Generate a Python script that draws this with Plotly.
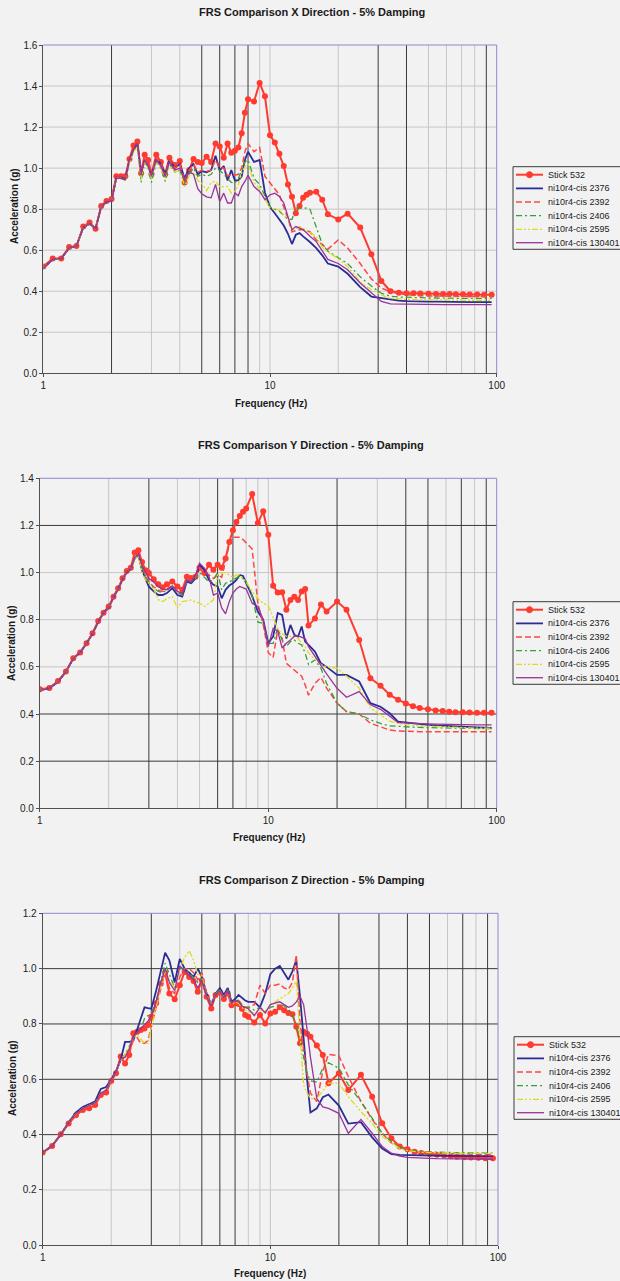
import math
import plotly.graph_objects as go

# ---------------- data ----------------
FREQ = [1.0, 1.1, 1.2, 1.3, 1.4, 1.5, 1.6, 1.7, 1.8, 1.9, 2.0, 2.1, 2.2, 2.3, 2.4, 2.5, 2.6, 2.7, 2.8, 2.9, 3.0,
        3.15, 3.3, 3.45, 3.6,
        3.8, 4.0, 4.2, 4.4, 4.6, 4.8, 5.0,
        5.25, 5.5, 5.75, 6.0, 6.25, 6.5, 6.75, 7.0, 7.25, 7.5, 7.75, 8.0,
        8.5, 9.0, 9.5, 10, 10.5, 11, 11.5, 12, 12.5, 13, 13.5, 14, 14.5, 15,
        16, 17, 18, 20, 22, 25, 28, 31, 34,
        37, 40, 43, 46, 50, 54, 58, 62, 66, 71, 76, 82, 88, 95]

SERIES = ["Stick 532", "ni10r4-cis 2376", "ni10r4-cis 2392", "ni10r4-cis 2406",
          "ni10r4-cis 2595", "ni10r4-cis 130401"]

# X direction
X_STICK = [0.52, 0.56, 0.56, 0.615, 0.62, 0.715, 0.735, 0.705, 0.815, 0.84, 0.85, 0.96, 0.96, 0.96, 1.045, 1.11, 1.13, 0.975, 1.065, 1.04, 0.97,
           1.065, 1.03, 0.97, 1.05,
           1.015, 1.035, 0.93, 0.99, 1.045, 1.03, 1.025,
           1.055, 1.03, 1.12, 1.105, 1.05, 1.12, 1.075, 1.085, 1.10, 1.17, 1.27, 1.335,
           1.325, 1.415, 1.35, 1.16, 1.125, 1.07, 1.01, 0.92, 0.86, 0.78, 0.815, 0.855, 0.87, 0.88,
           0.885, 0.846, 0.775, 0.75, 0.778, 0.71, 0.58, 0.45, 0.40,
           0.393, 0.39, 0.39, 0.389, 0.388, 0.387, 0.386, 0.386, 0.385, 0.385, 0.384, 0.384, 0.383, 0.383]
X_2376 = [0.51, 0.555, 0.56, 0.61, 0.62, 0.71, 0.73, 0.705, 0.81, 0.835, 0.84, 0.955, 0.955, 0.945, 1.04, 1.09, 1.12, 0.975, 1.04, 1.01, 0.965,
          1.045, 1.02, 0.97, 1.04,
          1.0, 1.02, 0.95, 1.0, 1.02, 0.97, 0.985,
          0.98, 0.99, 1.06, 0.99, 1.01, 0.94, 0.99, 0.94, 0.94, 0.96, 1.04, 1.08,
          1.03, 1.04, 0.88, 0.81, 0.78, 0.75, 0.72, 0.68, 0.63, 0.675, 0.683, 0.667, 0.655, 0.64,
          0.61, 0.575, 0.535, 0.52, 0.485, 0.42, 0.374, 0.366, 0.358,
          0.354, 0.352, 0.35, 0.35, 0.349, 0.349, 0.348, 0.348, 0.348, 0.348, 0.347, 0.347, 0.347, 0.347]
X_2392 = [0.51, 0.555, 0.56, 0.61, 0.62, 0.71, 0.73, 0.705, 0.81, 0.835, 0.845, 0.955, 0.955, 0.95, 1.04, 1.09, 1.12, 0.975, 1.045, 1.02, 0.965,
          1.05, 1.02, 0.965, 1.04,
          1.0, 1.02, 0.94, 0.99, 1.02, 0.98, 0.99,
          0.985, 0.99, 1.04, 1.0, 1.0, 0.96, 0.97, 0.965, 0.97, 1.0, 1.08, 1.12,
          1.08, 1.10, 0.96, 0.93, 0.90, 0.87, 0.81, 0.755, 0.69, 0.695, 0.70, 0.70, 0.695, 0.69,
          0.65, 0.625, 0.605, 0.65, 0.61, 0.535, 0.46, 0.415, 0.398,
          0.388, 0.383, 0.38, 0.378, 0.377, 0.376, 0.376, 0.375, 0.375, 0.375, 0.374, 0.374, 0.374, 0.374]
X_2406 = [0.51, 0.555, 0.56, 0.61, 0.62, 0.71, 0.73, 0.705, 0.81, 0.835, 0.84, 0.95, 0.95, 0.94, 1.03, 1.08, 1.11, 0.93, 1.03, 1.0, 0.93,
          1.03, 1.0, 0.935, 1.02,
          0.98, 0.99, 0.92, 0.97, 1.0, 0.96, 0.97,
          0.96, 0.97, 1.0, 0.99, 0.97, 0.95, 0.93, 0.927, 0.95, 0.99, 1.03, 1.04,
          0.95, 0.92, 0.86, 0.81, 0.80, 0.79, 0.77, 0.75, 0.75, 0.805, 0.805, 0.805, 0.805, 0.80,
          0.715, 0.63, 0.595, 0.565, 0.535, 0.47, 0.425, 0.39, 0.375,
          0.372, 0.37, 0.369, 0.368, 0.367, 0.367, 0.366, 0.366, 0.366, 0.365, 0.365, 0.365, 0.365, 0.365]
X_2595 = [0.51, 0.555, 0.56, 0.61, 0.62, 0.71, 0.73, 0.705, 0.81, 0.835, 0.84, 0.95, 0.95, 0.94, 1.03, 1.08, 1.10, 0.95, 1.03, 1.0, 0.95,
          1.03, 1.0, 0.95, 1.02,
          0.98, 0.99, 0.91, 0.96, 0.98, 0.94, 0.925,
          0.89, 0.93, 0.935, 0.91, 0.91, 0.91, 0.878, 0.886, 0.92, 0.975, 1.008, 1.02,
          0.93, 0.90, 0.85, 0.805, 0.80, 0.797, 0.77, 0.756, 0.70, 0.705, 0.715, 0.707, 0.70, 0.69,
          0.665, 0.615, 0.59, 0.56, 0.52, 0.445, 0.407, 0.382, 0.365,
          0.362, 0.36, 0.359, 0.358, 0.358, 0.357, 0.357, 0.357, 0.356, 0.356, 0.356, 0.356, 0.356, 0.356]
X_130401 = [0.51, 0.555, 0.56, 0.61, 0.62, 0.71, 0.73, 0.705, 0.81, 0.835, 0.84, 0.95, 0.95, 0.945, 1.04, 1.09, 1.12, 0.97, 1.04, 1.01, 0.96,
            1.04, 1.01, 0.96, 1.03,
            0.99, 1.0, 0.94, 0.98, 0.97, 0.90, 0.875,
            0.86, 0.855, 0.92, 0.837, 0.878, 0.83, 0.83, 0.878, 0.865, 0.91, 0.935, 0.965,
            0.91, 0.886, 0.846, 0.87, 0.878, 0.862, 0.83, 0.764, 0.70, 0.715, 0.707, 0.70, 0.685, 0.668,
            0.642, 0.595, 0.555, 0.535, 0.505, 0.44, 0.39, 0.35, 0.338,
            0.337, 0.336, 0.336, 0.335, 0.335, 0.335, 0.335, 0.335, 0.335, 0.335, 0.335, 0.335, 0.335, 0.335]

# Y direction
Y_STICK = [0.505, 0.51, 0.54, 0.58, 0.637, 0.661, 0.70, 0.743, 0.795, 0.83, 0.856, 0.898, 0.934, 0.976, 1.007, 1.02, 1.085, 1.095, 1.045, 1.01, 0.998,
           0.972, 0.95, 0.938, 0.95,
           0.962, 0.941, 0.927, 0.982, 0.977, 0.982, 1.02,
           0.998, 1.033, 1.012, 1.033, 1.02, 1.06, 1.13, 1.18, 1.215, 1.24, 1.258, 1.272,
           1.333, 1.21, 1.26, 1.16, 0.944, 0.915, 0.917, 0.842, 0.884, 0.898, 0.884, 0.92, 0.93, 0.775,
           0.805, 0.865, 0.835, 0.877, 0.842, 0.714, 0.552, 0.52, 0.482,
           0.46, 0.445, 0.433, 0.425, 0.42, 0.415, 0.413, 0.41, 0.408, 0.407, 0.406, 0.405, 0.405, 0.405]
Y_2376 = [0.50, 0.51, 0.535, 0.58, 0.635, 0.66, 0.70, 0.74, 0.79, 0.83, 0.85, 0.895, 0.93, 0.97, 1.0, 1.015, 1.06, 1.075, 1.01, 0.976, 0.94,
          0.92, 0.905, 0.905, 0.913,
          0.934, 0.905, 0.898, 0.962, 0.955, 0.976, 1.033,
          1.012, 0.969, 0.948, 0.941, 0.891, 0.927, 0.945, 0.955, 0.969, 0.99, 0.986, 0.955,
          0.90, 0.835, 0.80, 0.70, 0.729, 0.828, 0.82, 0.72, 0.778, 0.736, 0.729, 0.771, 0.707, 0.693,
          0.665, 0.615, 0.60, 0.566, 0.566, 0.538, 0.446, 0.431, 0.403,
          0.368, 0.364, 0.36, 0.357, 0.354, 0.352, 0.35, 0.348, 0.346, 0.345, 0.344, 0.343, 0.342, 0.341]
Y_2392 = [0.50, 0.51, 0.535, 0.58, 0.635, 0.66, 0.70, 0.74, 0.79, 0.83, 0.85, 0.895, 0.93, 0.97, 1.0, 1.015, 1.065, 1.08, 1.02, 0.99, 0.96,
          0.94, 0.925, 0.92, 0.93,
          0.945, 0.92, 0.91, 0.97, 0.965, 0.98, 1.02,
          1.0, 0.99, 0.975, 0.99, 0.98, 1.05, 1.12, 1.15, 1.15, 1.15, 1.14, 1.125,
          1.10, 0.87, 0.78, 0.66, 0.64, 0.757, 0.72, 0.615, 0.60, 0.587, 0.575, 0.56, 0.523, 0.48,
          0.53, 0.555, 0.51, 0.446, 0.41, 0.40, 0.361, 0.345, 0.332,
          0.328, 0.326, 0.325, 0.325, 0.325, 0.325, 0.325, 0.325, 0.325, 0.325, 0.325, 0.325, 0.325, 0.325]
Y_2406 = [0.50, 0.51, 0.535, 0.58, 0.635, 0.66, 0.70, 0.74, 0.79, 0.83, 0.85, 0.895, 0.93, 0.97, 1.0, 1.015, 1.06, 1.07, 1.02, 0.985, 0.955,
          0.935, 0.92, 0.915, 0.925,
          0.94, 0.915, 0.905, 0.965, 0.96, 0.975, 1.0,
          0.98, 0.96, 0.97, 1.0, 0.927, 0.955, 0.96, 0.969, 0.975, 0.986, 0.975, 0.962,
          0.90, 0.79, 0.785, 0.70, 0.70, 0.764, 0.714, 0.686, 0.707, 0.714, 0.70, 0.693, 0.658, 0.61,
          0.63, 0.594, 0.53, 0.446, 0.41, 0.40, 0.375, 0.36, 0.35,
          0.347, 0.345, 0.344, 0.343, 0.342, 0.341, 0.34, 0.34, 0.339, 0.339, 0.338, 0.338, 0.338, 0.338]
Y_2595 = [0.50, 0.51, 0.535, 0.58, 0.635, 0.66, 0.70, 0.74, 0.79, 0.83, 0.85, 0.895, 0.93, 0.97, 1.0, 1.015, 1.06, 1.07, 1.0, 0.97, 0.955,
          0.93, 0.885, 0.877, 0.89,
          0.898, 0.85, 0.877, 0.88, 0.884, 0.875, 0.87,
          0.856, 0.87, 0.884, 0.99, 1.0, 1.0, 0.99, 0.98, 0.99, 0.99, 0.975, 0.96,
          0.92, 0.89, 0.87, 0.86, 0.81, 0.76, 0.74, 0.73, 0.729, 0.729, 0.72, 0.70, 0.686, 0.66,
          0.63, 0.61, 0.60, 0.595, 0.56, 0.51, 0.425, 0.395, 0.37,
          0.36, 0.355, 0.352, 0.35, 0.348, 0.346, 0.345, 0.344, 0.343, 0.342, 0.341, 0.34, 0.34, 0.34]
Y_130401 = [0.50, 0.51, 0.535, 0.58, 0.635, 0.66, 0.70, 0.74, 0.79, 0.83, 0.85, 0.895, 0.93, 0.97, 1.0, 1.015, 1.065, 1.08, 1.03, 1.0, 0.975,
            0.96, 0.94, 0.93, 0.927,
            0.944, 0.92, 0.912, 0.969, 0.962, 0.99, 1.04,
            1.019, 0.983, 0.905, 0.913, 0.85, 0.825, 0.877, 0.913, 0.93, 0.941, 0.934, 0.93,
            0.87, 0.856, 0.80, 0.686, 0.764, 0.75, 0.68, 0.70, 0.714, 0.73, 0.731, 0.725, 0.72, 0.686,
            0.645, 0.61, 0.57, 0.509, 0.471, 0.495, 0.439, 0.42, 0.389,
            0.364, 0.362, 0.36, 0.359, 0.358, 0.357, 0.356, 0.356, 0.355, 0.355, 0.355, 0.354, 0.354, 0.354]

# Z direction
Z_STICK = [0.335, 0.359, 0.401, 0.44, 0.47, 0.489, 0.495, 0.507, 0.543, 0.552, 0.594, 0.622, 0.682, 0.657, 0.688, 0.766, 0.772, 0.778, 0.784, 0.796, 0.826,
           0.875, 0.945, 0.985, 0.91,
           0.889, 0.94, 0.988, 0.97, 0.955, 0.916, 0.958,
           0.898, 0.856, 0.905, 0.915, 0.89, 0.91, 0.868, 0.875, 0.872, 0.855, 0.832, 0.826,
           0.805, 0.832, 0.802, 0.838, 0.844, 0.86, 0.85, 0.84, 0.835, 0.79, 0.73, 0.772, 0.765, 0.754,
           0.722, 0.688, 0.586, 0.622, 0.561, 0.616, 0.537, 0.441, 0.387,
           0.357, 0.347, 0.338, 0.334, 0.33, 0.327, 0.325, 0.322, 0.32, 0.318, 0.317, 0.316, 0.315, 0.315]
Z_2376 = [0.335, 0.36, 0.40, 0.445, 0.48, 0.50, 0.51, 0.52, 0.565, 0.572, 0.60, 0.63, 0.67, 0.735, 0.735, 0.74, 0.78, 0.82, 0.86, 0.857, 0.855,
          0.92, 0.99, 1.058, 1.03,
          0.95, 1.035, 1.0, 0.985, 0.97, 1.0, 0.97,
          0.91, 0.87, 0.91, 0.93, 0.905, 0.93, 0.88, 0.89, 0.905, 0.895, 0.885, 0.88,
          0.88, 0.86, 0.91, 0.98, 1.0, 1.01, 0.985, 0.96, 0.99, 1.03, 0.90, 0.74, 0.60, 0.48,
          0.495, 0.535, 0.545, 0.505, 0.44, 0.445, 0.39, 0.35, 0.33,
          0.327, 0.326, 0.325, 0.325, 0.324, 0.324, 0.323, 0.323, 0.323, 0.323, 0.323, 0.322, 0.322, 0.322]
Z_2392 = [0.335, 0.36, 0.40, 0.445, 0.475, 0.495, 0.505, 0.515, 0.55, 0.56, 0.60, 0.625, 0.67, 0.68, 0.70, 0.74, 0.75, 0.73, 0.73, 0.74, 0.79,
          0.86, 0.93, 0.99, 0.93,
          0.91, 0.97, 1.0, 1.0, 0.985, 0.96, 0.985,
          0.91, 0.865, 0.91, 0.92, 0.90, 0.92, 0.875, 0.885, 0.885, 0.87, 0.86, 0.86,
          0.87, 0.94, 0.91, 0.94, 0.94, 0.945, 0.93, 0.925, 0.95, 1.05, 0.80, 0.70, 0.62, 0.55,
          0.52, 0.63, 0.69, 0.685, 0.61, 0.52, 0.455, 0.405, 0.37,
          0.355, 0.345, 0.34, 0.337, 0.335, 0.333, 0.332, 0.331, 0.33, 0.33, 0.329, 0.329, 0.328, 0.328]
Z_2406 = [0.335, 0.36, 0.40, 0.445, 0.475, 0.495, 0.505, 0.515, 0.55, 0.56, 0.60, 0.625, 0.67, 0.69, 0.72, 0.75, 0.77, 0.78, 0.82, 0.83, 0.84,
          0.88, 0.95, 1.02, 0.98,
          0.93, 1.0, 1.0, 0.985, 0.965, 0.95, 0.965,
          0.90, 0.87, 0.91, 0.925, 0.895, 0.925, 0.875, 0.885, 0.885, 0.87, 0.86, 0.86,
          0.85, 0.86, 0.845, 0.86, 0.865, 0.87, 0.865, 0.855, 0.83, 0.80, 0.74, 0.68, 0.62, 0.595,
          0.59, 0.64, 0.66, 0.64, 0.58, 0.52, 0.458, 0.405, 0.375,
          0.355, 0.345, 0.34, 0.338, 0.337, 0.336, 0.335, 0.335, 0.335, 0.334, 0.334, 0.334, 0.333, 0.333]
Z_2595 = [0.335, 0.36, 0.40, 0.445, 0.475, 0.495, 0.505, 0.515, 0.55, 0.56, 0.60, 0.625, 0.67, 0.69, 0.72, 0.75, 0.76, 0.745, 0.73, 0.73, 0.78,
          0.86, 0.94, 0.99, 0.96,
          0.93, 1.0, 1.04, 1.065, 1.03, 0.98, 0.975,
          0.90, 0.87, 0.905, 0.92, 0.895, 0.92, 0.87, 0.88, 0.875, 0.86, 0.85, 0.845,
          0.84, 0.85, 0.84, 0.87, 0.88, 0.89, 0.90, 0.91, 0.93, 0.955, 0.76, 0.58, 0.55, 0.53,
          0.53, 0.56, 0.586, 0.586, 0.537, 0.483, 0.441, 0.393, 0.369,
          0.35, 0.342, 0.338, 0.336, 0.335, 0.334, 0.334, 0.333, 0.333, 0.333, 0.332, 0.332, 0.332, 0.332]
Z_130401 = [0.335, 0.36, 0.40, 0.445, 0.475, 0.495, 0.505, 0.515, 0.55, 0.56, 0.60, 0.625, 0.675, 0.68, 0.71, 0.755, 0.77, 0.785, 0.80, 0.81, 0.83,
            0.88, 0.95, 1.0, 0.95,
            0.92, 1.01, 0.99, 0.975, 0.96, 0.93, 0.96,
            0.90, 0.865, 0.905, 0.92, 0.895, 0.92, 0.875, 0.885, 0.88, 0.865, 0.86, 0.855,
            0.83, 0.86, 0.84, 0.87, 0.875, 0.88, 0.87, 0.86, 0.865, 0.88, 0.90, 0.87, 0.78, 0.68,
            0.53, 0.50, 0.495, 0.477, 0.405, 0.455, 0.405, 0.357, 0.333,
            0.322, 0.318, 0.316, 0.315, 0.314, 0.313, 0.313, 0.312, 0.312, 0.312, 0.311, 0.311, 0.311, 0.311]

X_DATA = [X_STICK, X_2376, X_2392, X_2406, X_2595, X_130401]
Y_DATA = [Y_STICK, Y_2376, Y_2392, Y_2406, Y_2595, Y_130401]
Z_DATA = [Z_STICK, Z_2376, Z_2392, Z_2406, Z_2595, Z_130401]

X_TICKS = [1, 10, 100]
X_TICKTEXT = ["1", "10", "100"]

# ---------------- styling / layout ----------------
W, H = 620, 1281
BG = "#f2f2f2"
FONT = "Arial, Liberation Sans, sans-serif"
LIGHT = "#c6c6c6"
DARK = "#3a3a3a"


def px(x):
    return x / W


def py(y):
    return 1 - y / H


STYLES = [
    dict(color="#ff3a2e", width=2.0, dash="solid"),
    dict(color="#2c2c96", width=1.8, dash="solid"),
    dict(color="#ff4646", width=1.5, dash="6px,3px"),
    dict(color="#36a036", width=1.3, dash="6px,3px,2px,3px"),
    dict(color="#dcdc1e", width=1.3, dash="6px,2px,2px,2px,2px,2px"),
    dict(color="#9a339a", width=1.3, dash="solid"),
]

CHARTS = [
    dict(title="FRS Comparison X Direction - 5% Damping", data=X_DATA, ymax=1.6,
         left=43.3, right=496.7, top=45.0, bottom=373.3,
         title_xy=(312, 12), xt_xy=(271, 403.5), yt_xy=(15, 206),
         leg_left=513, leg_top=166.7,
         dark_x=[2, 5, 6, 7, 8, 30, 40, 90], dark_y=[]),
    dict(title="FRS Comparison Y Direction - 5% Damping", data=Y_DATA, ymax=1.4,
         left=39.9, right=496.7, top=478.3, bottom=808.3,
         title_xy=(311, 444.5), xt_xy=(269, 838), yt_xy=(11, 643),
         leg_left=513, leg_top=601.7,
         dark_x=[3, 6, 7, 20, 40, 50, 70, 90], dark_y=[0.2, 0.4, 1.2]),
    dict(title="FRS Comparison Z Direction - 5% Damping", data=Z_DATA, ymax=1.2,
         left=42.7, right=498.0, top=913.3, bottom=1245.3,
         title_xy=(312, 880), xt_xy=(270, 1273.5), yt_xy=(12, 1078),
         leg_left=514, leg_top=1036.7,
         dark_x=[3, 5, 6, 7, 20, 30, 40, 50, 70, 90], dark_y=[0.4, 0.6, 0.8, 1.0]),
]

GRID_X = [2, 3, 4, 5, 6, 7, 8, 9, 10, 20, 30, 40, 50, 60, 70, 80, 90]
LEG_ROWS = [8.0, 21.7, 35.3, 49.0, 62.7, 76.0]
LEG_H = 82.6

fig = go.Figure()
shapes = []
annotations = []
layout_axes = {}

for k, ch in enumerate(CHARTS):
    sfx = "" if k == 0 else str(k + 1)
    xa, ya = "x" + sfx, "y" + sfx
    x0p, x1p = px(ch["left"]), px(ch["right"])
    y0p, y1p = py(ch["bottom"]), py(ch["top"])

    # traces (stick first, others drawn over it)
    for i, (name, vals) in enumerate(zip(SERIES, ch["data"])):
        st = STYLES[i]
        fig.add_trace(go.Scatter(
            x=FREQ, y=vals, name=name, xaxis=xa, yaxis=ya,
            mode="lines+markers" if i == 0 else "lines",
            line=dict(color=st["color"], width=st["width"], dash=st["dash"]),
            marker=dict(size=6, color=st["color"]) if i == 0 else None,
            showlegend=False, hoverinfo="x+y+name"))

    layout_axes["xaxis" + sfx] = dict(
        type="log", range=[0, 2], domain=[x0p, x1p], anchor=ya,
        tickvals=X_TICKS, ticktext=X_TICKTEXT, showgrid=False, zeroline=False,
        showline=True, linecolor="#505050", linewidth=1,
        ticks="outside", ticklen=3, tickcolor="#505050",
        tickfont=dict(size=10, color="#222", family=FONT))
    layout_axes["yaxis" + sfx] = dict(
        range=[0, ch["ymax"]], domain=[y0p, y1p], anchor=xa,
        dtick=0.2, tick0=0, tickformat=".1f", showgrid=False, zeroline=False,
        showline=True, linecolor="#505050", linewidth=1,
        ticks="outside", ticklen=3, tickcolor="#505050",
        tickfont=dict(size=10, color="#222", family=FONT))

    def gx(f):
        return x0p + (x1p - x0p) * math.log10(f) / 2.0

    def gy(v):
        return y0p + (y1p - y0p) * v / ch["ymax"]

    # gridlines: light first, dark on top
    yvals = [round(0.2 * j, 1) for j in range(1, int(round(ch["ymax"] / 0.2)))]
    for dark in (False, True):
        col = DARK if dark else LIGHT
        for f in GRID_X:
            if (f in ch["dark_x"]) == dark:
                shapes.append(dict(type="line", xref="paper", yref="paper",
                                   x0=gx(f), x1=gx(f), y0=y0p, y1=y1p,
                                   line=dict(color=col, width=1), layer="below"))
        for v in yvals:
            if (v in ch["dark_y"]) == dark:
                shapes.append(dict(type="line", xref="paper", yref="paper",
                                   x0=x0p, x1=x1p, y0=gy(v), y1=gy(v),
                                   line=dict(color=col, width=1), layer="below"))
    # top / right frame (bluish)
    shapes.append(dict(type="line", xref="paper", yref="paper", x0=x0p, x1=x1p, y0=y1p, y1=y1p,
                       line=dict(color="#8a8ad0", width=1), layer="below"))
    shapes.append(dict(type="line", xref="paper", yref="paper", x0=x1p, x1=x1p, y0=y0p, y1=y1p,
                       line=dict(color="#8a8ad0", width=1), layer="below"))

    # titles
    tx, ty = ch["title_xy"]
    annotations.append(dict(text=ch["title"], x=px(tx), y=py(ty), xref="paper", yref="paper",
                            xanchor="center", yanchor="middle", showarrow=False,
                            font=dict(size=11, color="#1a1a1a", family=FONT, weight="bold")))
    tx, ty = ch["xt_xy"]
    annotations.append(dict(text="Frequency (Hz)", x=px(tx), y=py(ty), xref="paper", yref="paper",
                            xanchor="center", yanchor="middle", showarrow=False,
                            font=dict(size=10, color="#1a1a1a", family=FONT, weight="bold")))
    tx, ty = ch["yt_xy"]
    annotations.append(dict(text="Acceleration (g)", x=px(tx), y=py(ty), xref="paper", yref="paper",
                            xanchor="center", yanchor="middle", showarrow=False, textangle=-90,
                            font=dict(size=10, color="#1a1a1a", family=FONT, weight="bold")))

    # legend box
    lt, ll = ch["leg_top"], ch["leg_left"]
    shapes.append(dict(type="rect", xref="paper", yref="paper",
                       x0=px(ll), x1=px(ll + 140), y0=py(lt + LEG_H), y1=py(lt),
                       line=dict(color="#3a3a3a", width=1), fillcolor=BG, layer="above"))
    for i, name in enumerate(SERIES):
        st = STYLES[i]
        yy = lt + LEG_ROWS[i]
        shapes.append(dict(type="line", xref="paper", yref="paper",
                           x0=px(ll + 3), x1=px(ll + 30), y0=py(yy), y1=py(yy),
                           line=dict(color=st["color"], width=st["width"], dash=st["dash"]),
                           layer="above"))
        if i == 0:
            shapes.append(dict(type="circle", xref="paper", yref="paper",
                               x0=px(ll + 13.5), x1=px(ll + 19.5), y0=py(yy + 3), y1=py(yy - 3),
                               line=dict(color=st["color"], width=1), fillcolor=st["color"],
                               layer="above"))
        annotations.append(dict(text=name, x=px(ll + 32.5), y=py(yy), xref="paper", yref="paper",
                                xanchor="left", yanchor="middle", showarrow=False,
                                font=dict(size=9, color="#1a1a1a", family=FONT)))

fig.update_layout(
    width=W, height=H,
    margin=dict(l=0, r=0, t=0, b=0, pad=0, autoexpand=False),
    paper_bgcolor=BG, plot_bgcolor=BG,
    font=dict(family=FONT, size=10, color="#222"),
    showlegend=False,
    shapes=shapes, annotations=annotations,
    **layout_axes)

fig.write_html("out.html", config={"displayModeBar": False},
               post_script="document.body.style.margin='0px';document.body.style.overflow='hidden';")
